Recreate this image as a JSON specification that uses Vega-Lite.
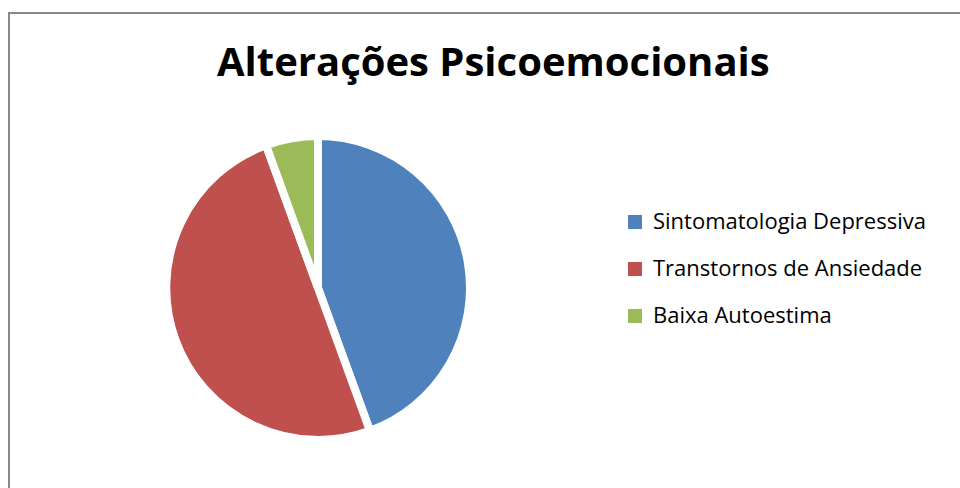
{
  "$schema": "https://vega.github.io/schema/vega-lite/v6.json",
  "autosize": "none",
  "width": 960,
  "height": 484,
  "padding": {"left": 9, "top": 13, "right": 0, "bottom": 0},
  "background": "white",
  "view": {"stroke": "#888888", "strokeWidth": 2},
  "config": {
    "view": {"stroke": "#888888", "strokeWidth": 2},
    "font": "Open Sans"
  },
  "title": {
    "text": "Alterações Psicoemocionais",
    "font": "Open Sans",
    "fontSize": 40,
    "fontWeight": "bold",
    "color": "#000000",
    "anchor": "start",
    "orient": "top",
    "offset": -71,
    "dx": 208
  },
  "data": {
    "values": [
      {"categoria": "Sintomatologia Depressiva", "valor": 8, "ordem": 1},
      {"categoria": "Transtornos de Ansiedade", "valor": 9, "ordem": 2},
      {"categoria": "Baixa Autoestima", "valor": 1, "ordem": 3}
    ]
  },
  "mark": {
    "type": "arc",
    "outerRadius": 152,
    "stroke": "white",
    "strokeWidth": 8,
    "xOffset": -171,
    "yOffset": 33
  },
  "encoding": {
    "theta": {"field": "valor", "type": "quantitative", "stack": true},
    "order": {"field": "ordem", "type": "quantitative", "sort": "ascending"},
    "color": {
      "field": "categoria",
      "type": "nominal",
      "sort": ["Sintomatologia Depressiva", "Transtornos de Ansiedade", "Baixa Autoestima"],
      "scale": {
        "domain": ["Sintomatologia Depressiva", "Transtornos de Ansiedade", "Baixa Autoestima"],
        "range": ["#4F81BD", "#C0504D", "#9BBB59"]
      },
      "legend": {
        "title": null,
        "orient": "none",
        "legendX": 615,
        "legendY": 198,
        "symbolType": "square",
        "symbolSize": 196,
        "symbolStrokeWidth": 0,
        "labelFont": "Open Sans",
        "labelFontSize": 22,
        "labelColor": "#000000",
        "labelOffset": 7,
        "rowPadding": 25,
        "labelLimit": 400
      }
    }
  }
}
